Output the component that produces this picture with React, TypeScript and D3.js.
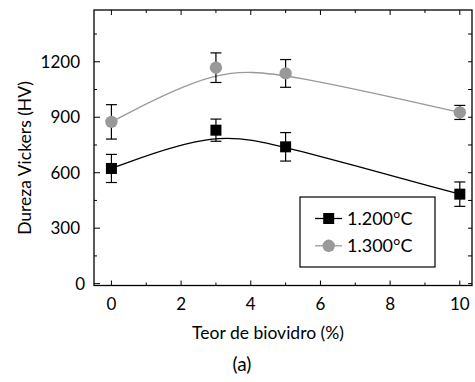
import * as d3 from "d3";

// teor de biovidro (%)
const teor = [0, 3, 5, 10];
// dureza Vickers (HV), 1.200°C
const hv1200 = [623, 830, 740, 484];
const err1200 = [76, 60, 77, 66];
// dureza Vickers (HV), 1.300°C
const hv1300 = [875, 1168, 1137, 926];
const err1300 = [93, 80, 75, 38];

const xTicks = [0, 2, 4, 6, 8, 10];
const yTicks = [0, 300, 600, 900, 1200];
const seriesNames = ["1.200°C", "1.300°C"];

const W = 475;
const H = 382;
const font = "Lato, 'DejaVu Sans', sans-serif";

export default function App() {
  const x = d3.scaleLinear().domain([-0.5, 10.35]).range([94, 472]);
  const y = d3.scaleLinear().domain([-10, 1480]).range([285.5, 10]);

  const xMinor = d3.range(0, 11, 1).filter((v) => v % 2 !== 0);
  const yMinor = d3.range(150, 1480, 300);

  const lineGen = d3
    .line<number>()
    .x((d, i) => x(teor[i]))
    .y((d) => y(d))
    .curve(d3.curveBasis);

  const series = [
    { name: seriesNames[0], vals: hv1200, errs: err1200, color: "#000", lineColor: "#000", shape: "square" },
    { name: seriesNames[1], vals: hv1300, errs: err1300, color: "#999", lineColor: "#999", shape: "circle" },
  ];

  const [x0, x1] = x.range();
  const [y0, y1] = y.range();

  const marker = (shape: string, cx: number, cy: number, color: string) =>
    shape === "square" ? (
      <rect x={cx - 5.5} y={cy - 5.5} width={11} height={11} fill={color} />
    ) : (
      <circle cx={cx} cy={cy} r={6.2} fill={color} />
    );

  return (
    <div style={{ position: "absolute", left: 0, top: 0 }}>
      <svg width={W} height={H} style={{ display: "block", background: "#fff" }} fontFamily={font}>
        {/* ticks */}
        <g stroke="#000" strokeWidth={1}>
          {xTicks.map((t) => (
            <g key={"xt" + t}>
              <line x1={x(t)} x2={x(t)} y1={y0} y2={y0 - 5} />
              <line x1={x(t)} x2={x(t)} y1={y1} y2={y1 + 5} />
            </g>
          ))}
          {xMinor.map((t) => (
            <g key={"xm" + t}>
              <line x1={x(t)} x2={x(t)} y1={y0} y2={y0 - 3} />
              <line x1={x(t)} x2={x(t)} y1={y1} y2={y1 + 3} />
            </g>
          ))}
          {yTicks.map((t) => (
            <g key={"yt" + t}>
              <line x1={x0} x2={x0 + 6} y1={y(t)} y2={y(t)} />
              <line x1={x1} x2={x1 - 4} y1={y(t)} y2={y(t)} />
            </g>
          ))}
          {yMinor.map((t) => (
            <g key={"ym" + t}>
              <line x1={x0} x2={x0 + 3} y1={y(t)} y2={y(t)} />
              <line x1={x1} x2={x1 - 4} y1={y(t)} y2={y(t)} />
            </g>
          ))}
        </g>

        {/* frame */}
        <rect x={x0} y={y1} width={x1 - x0} height={y0 - y1} fill="none" stroke="#000" strokeWidth={1.3} />

        {/* tick labels */}
        <g fontSize={17} fill="#000">
          {xTicks.map((t) => (
            <text key={"xl" + t} x={x(t)} y={310} textAnchor="middle">
              {t}
            </text>
          ))}
          {yTicks.map((t) => (
            <text key={"yl" + t} x={t === 0 ? 85 : 80} y={y(t)} dy="0.36em" textAnchor="end">
              {t}
            </text>
          ))}
        </g>

        {/* axis titles */}
        <text x={268} y={339} fontSize={17.5} textAnchor="middle">
          Teor de biovidro (%)
        </text>
        <text transform="translate(31,158) rotate(-90)" fontSize={17.5} textAnchor="middle">
          Dureza Vickers (HV)
        </text>
        <text x={242} y={371} fontSize={19} textAnchor="middle">
          (a)
        </text>

        {/* curves, error bars, markers */}
        {series.map((s) => (
          <g key={s.name}>
            <path d={lineGen(s.vals) ?? ""} fill="none" stroke={s.lineColor} strokeWidth={1.3} />
            {s.vals.map((v, i) => {
              const cx = x(teor[i]);
              const top = y(v + s.errs[i]);
              const bot = y(v - s.errs[i]);
              return (
                <g key={i} stroke="#000" strokeWidth={1.2}>
                  <line x1={cx} x2={cx} y1={top} y2={bot} />
                  <line x1={cx - 5.5} x2={cx + 5.5} y1={top} y2={top} />
                  <line x1={cx - 5.5} x2={cx + 5.5} y1={bot} y2={bot} />
                </g>
              );
            })}
            {s.vals.map((v, i) => (
              <g key={"m" + i}>{marker(s.shape, x(teor[i]), y(v), s.color)}</g>
            ))}
          </g>
        ))}

        {/* legend */}
        <rect x={300} y={197} width={135} height={70} fill="#fff" stroke="#000" strokeWidth={1.2} />
        {series.map((s, i) => {
          const ly = 218.5 + i * 27.3;
          return (
            <g key={"lg" + s.name}>
              <line x1={315} x2={342} y1={ly} y2={ly} stroke={s.lineColor} strokeWidth={1.3} />
              {marker(s.shape, 328.7, ly, s.color)}
              <text x={347} y={ly} dy="0.36em" fontSize={18}>
                {s.name}
              </text>
            </g>
          );
        })}
      </svg>
    </div>
  );
}
